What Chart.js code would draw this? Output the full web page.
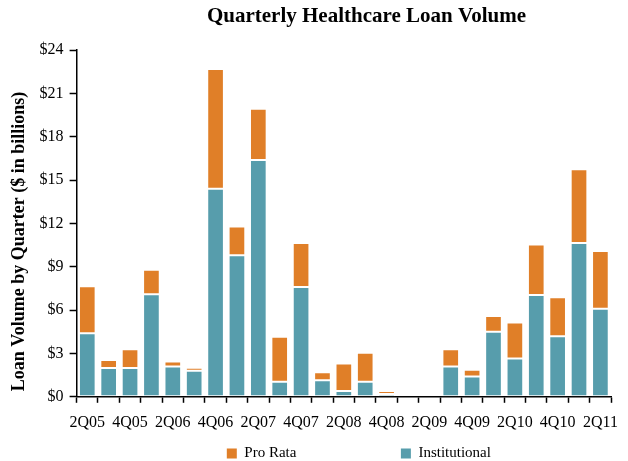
<!DOCTYPE html>
<html>
<head>
<meta charset="utf-8">
<script src="https://cdn.jsdelivr.net/npm/chart.js@4"></script>
<style>
  html, body { margin: 0; padding: 0; background: #fff; }
  #wrap { width: 628px; height: 461px; }
</style>
</head>
<body>
<div id="wrap"><canvas id="loanChart"></canvas></div>
<script>
const quarters = ['2Q05', '3Q05', '4Q05', '1Q06', '2Q06', '3Q06', '4Q06', '1Q07', '2Q07', '3Q07',
    '4Q07', '1Q08', '2Q08', '3Q08', '4Q08', '1Q09', '2Q09', '3Q09', '4Q09', '1Q10',
    '2Q10', '3Q10', '4Q10', '1Q11', '2Q11'];

// $ billions
const institutional = [4.4, 2.0, 2.0, 7.1, 2.1, 1.8, 14.4, 9.8, 16.4, 1.05,
    7.6, 1.15, 0.4, 1.05, 0.2, 0, 0, 2.1, 1.4, 4.5,
    2.65, 7.05, 4.2, 10.65, 6.1];
const proRata = [3.25, 0.55, 1.3, 1.7, 0.35, 0.22, 8.3, 2.0, 3.55, 3.1,
    3.05, 0.55, 1.9, 2.0, 0.2, 0, 0, 1.2, 0.47, 1.1,
    2.5, 3.5, 2.7, 5.1, 4.0];

const yTicks = [0, 3, 6, 9, 12, 15, 18, 21, 24];

const serif = "'Liberation Serif', 'Times New Roman', serif";

// title and legend sit a bit right of centre in the original
const nudge = {
    id: 'nudge',
    afterLayout(chart) {
        if (chart.titleBlock) chart.titleBlock.left += 102;
        if (chart.legend) chart.legend.left += 30;
    }
};

const ctx = document.getElementById('loanChart').getContext('2d');

new Chart(ctx, {
    type: 'bar',
    data: {
        labels: quarters,
        datasets: [
            {
                label: 'Institutional',
                data: institutional,
                backgroundColor: '#579DAC',
                borderColor: 'rgba(255,255,255,0.55)',
                borderWidth: 1,
                borderSkipped: false
            },
            {
                label: 'Pro Rata',
                data: proRata,
                backgroundColor: '#E07F28',
                borderColor: 'rgba(255,255,255,0.55)',
                borderWidth: 1,
                borderSkipped: false
            }
        ]
    },
    options: {
        responsive: true,
        maintainAspectRatio: false,
        animation: false,
        categoryPercentage: 1,
        barPercentage: 0.78,
        layout: { padding: { left: 9, right: 6, top: 0, bottom: 0 } },
        plugins: {
            title: {
                display: true,
                text: 'Quarterly Healthcare Loan Volume',
                color: '#000',
                font: { family: serif, size: 21, weight: 'bold' },
                padding: { top: 4, bottom: 21 }
            },
            legend: {
                position: 'bottom',
                reverse: true,
                fullSize: false,
                maxHeight: 19,
                labels: {
                    color: '#000',
                    boxWidth: 10,
                    boxHeight: 10,
                    padding: 4,
                    font: { family: serif, size: 15 },
                    // wide gap between the two entries, as in the original
                    generateLabels: chart => {
                        const items = Chart.defaults.plugins.legend.labels.generateLabels(chart);
                        items.forEach(it => {
                            it.fillStyle = chart.data.datasets[it.datasetIndex].backgroundColor;
                            it.strokeStyle = it.fillStyle;
                            it.lineWidth = 0;
                            if (it.datasetIndex === 1) it.text += '\u2003'.repeat(6) + '\u2002\u2009';
                        });
                        return items;
                    }
                }
            },
            tooltip: { enabled: false }
        },
        scales: {
            x: {
                stacked: true,
                offset: true,
                grid: {
                    offset: true,
                    drawOnChartArea: false,
                    color: '#000',
                    tickLength: 6,
                    tickWidth: 1.5
                },
                border: { color: '#000', width: 1.5 },
                ticks: {
                    autoSkip: false,
                    maxRotation: 0,
                    color: '#000',
                    padding: 10,
                    font: { family: serif, size: 16 },
                    callback: (v, i) => (i % 2 === 0 ? quarters[i] : '')
                }
            },
            y: {
                stacked: true,
                min: 0,
                max: 24,
                afterBuildTicks: axis => { axis.ticks = yTicks.map(v => ({ value: v })); },
                grid: {
                    drawOnChartArea: false,
                    color: '#000',
                    tickLength: 7,
                    tickWidth: 1.5
                },
                border: { color: '#000', width: 1.5 },
                ticks: {
                    color: '#000',
                    padding: 6,
                    font: { family: serif, size: 16 },
                    callback: v => '$' + v
                },
                title: {
                    display: true,
                    // trailing spaces push the label down to where the original has it
                    text: 'Loan Volume by Quarter ($ in billions)\u2003\u2003',
                    color: '#000',
                    font: { family: serif, size: 18, weight: 'bold' },
                    padding: { top: 0, bottom: 3 }
                }
            }
        }
    },
    plugins: [nudge]
});
</script>
</body>
</html>
